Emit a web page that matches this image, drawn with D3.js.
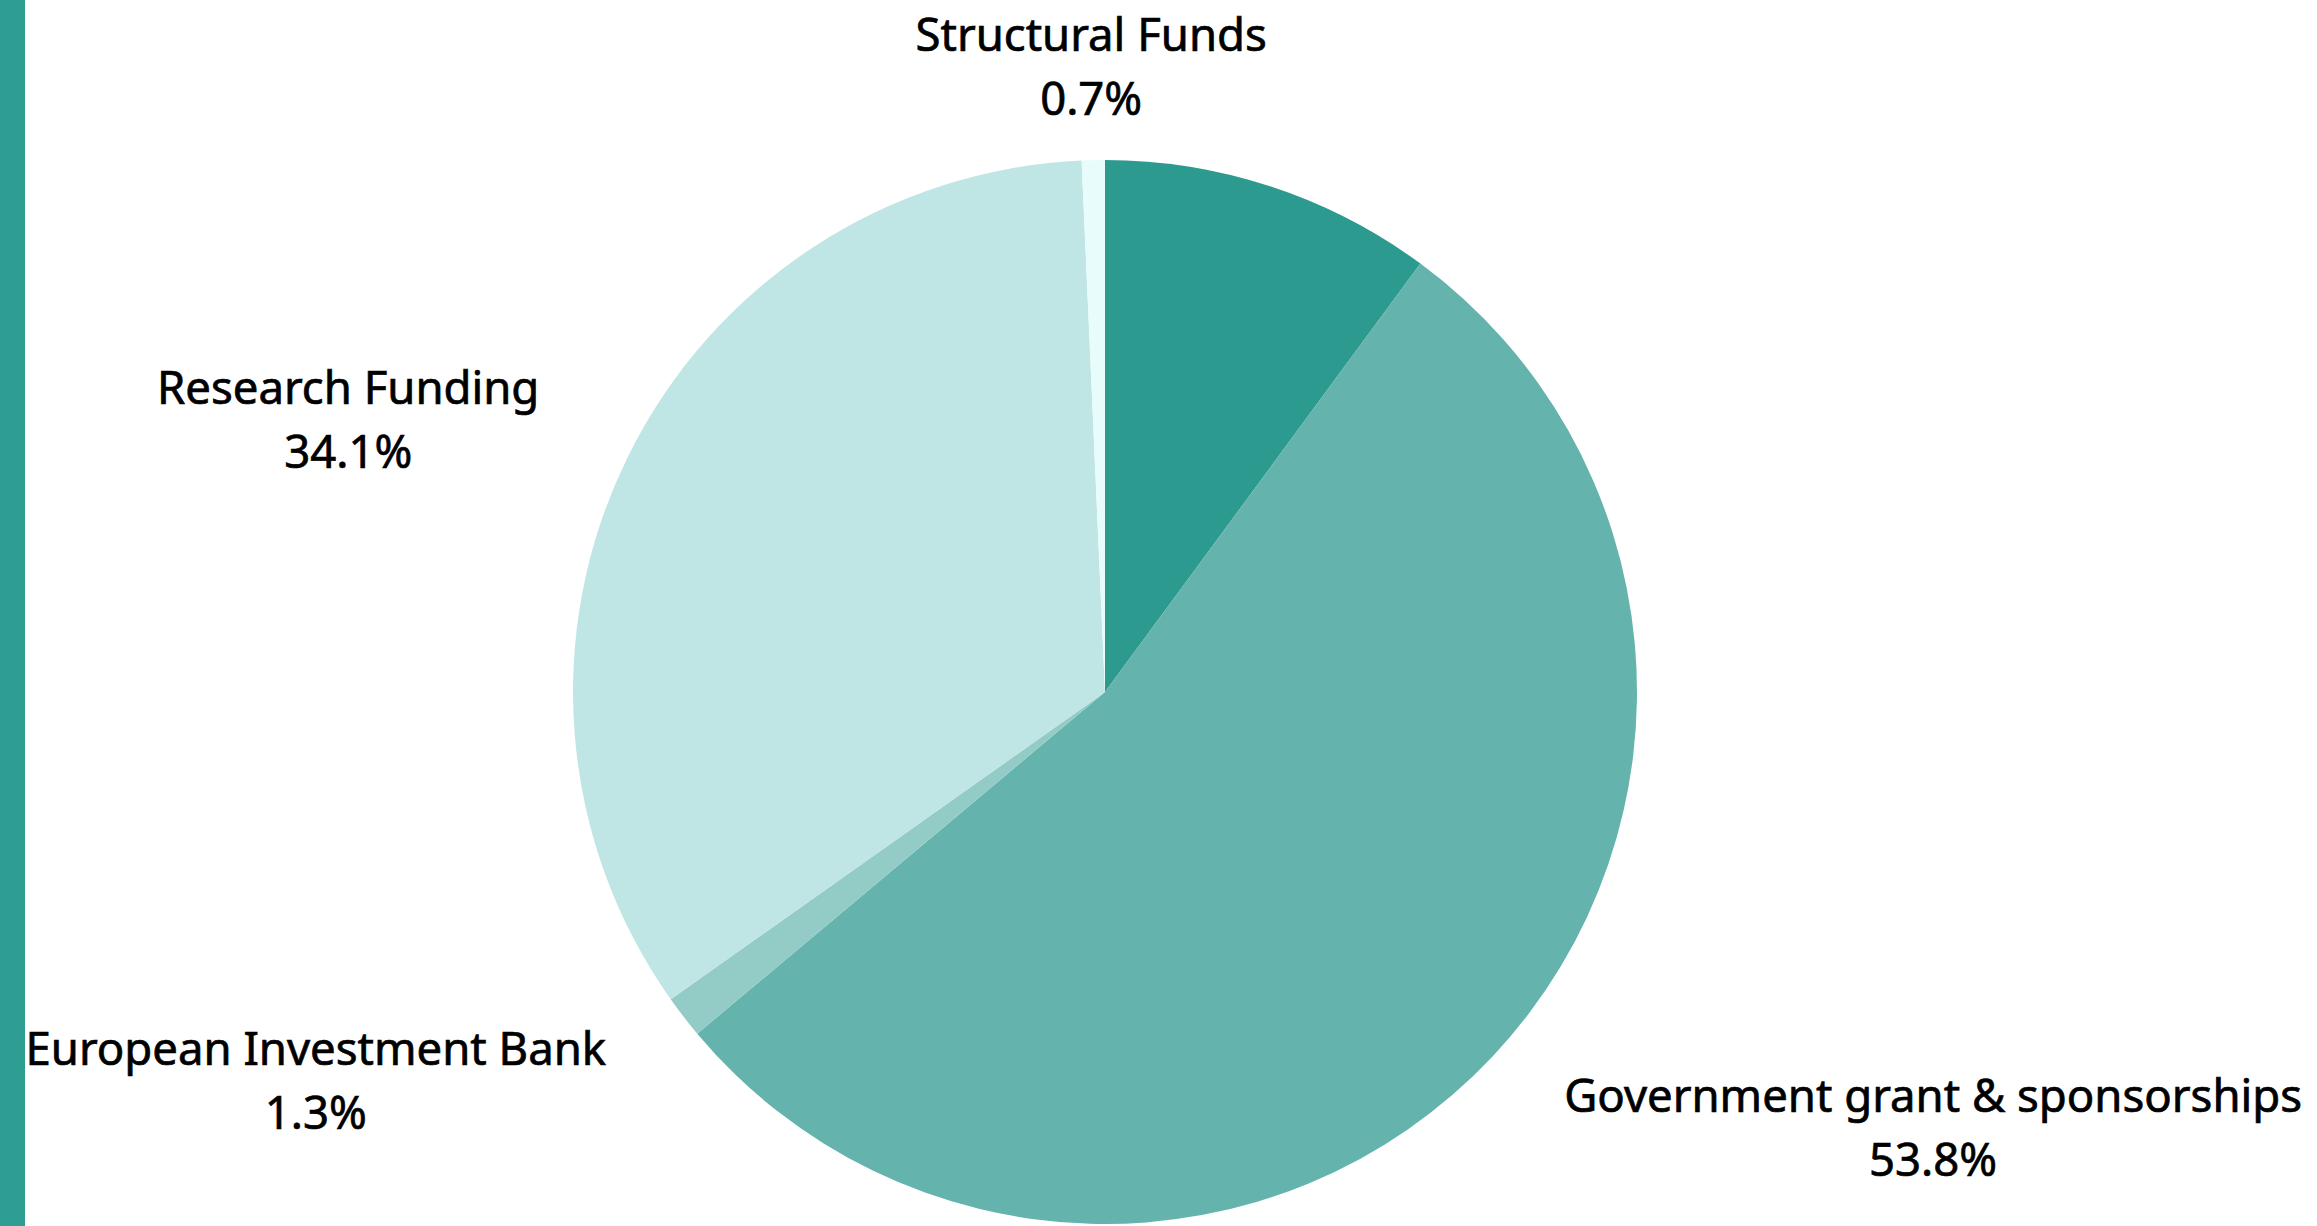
<!DOCTYPE html>
<html>
<head>
<meta charset="utf-8">
<script src="https://cdn.jsdelivr.net/npm/d3@7"></script>
<style>
  html, body { margin: 0; padding: 0; background: #ffffff; }
  svg { display: block; }
</style>
</head>
<body>
<div class="chart-area"></div>
<script>
// slices, clockwise from 12 o'clock
const categories = ['Other', 'Government grant & sponsorships', 'European Investment Bank', 'Research Funding', 'Structural Funds']
const shares = [10.1, 53.8, 1.3, 34.1, 0.7]
const showLabel = [false, true, true, true, true]
const sliceColors = ['#2c9a8f', '#65b3ad', '#93ccc7', '#bfe6e4', '#e9fcfc']

const width = 2317
const height = 1226
const cx = 1105
const cy = 692
const radius = 532
const labelRadius = radius * 1.184
const fontSize = 45.5
const lineGap = 64

const svg = d3.select('.chart-area').append('svg')
  .attr('width', width)
  .attr('height', height)

// teal strip down the left edge
svg.append('rect')
  .attr('x', 0)
  .attr('y', 0)
  .attr('width', 25)
  .attr('height', height)
  .style('fill', '#2e9d92')

const slices = categories.map((c, i) => ({ name: c, value: shares[i], color: sliceColors[i], label: showLabel[i] }))

const pie = d3.pie().sort(null).value(d => d.value)
const arc = d3.arc().innerRadius(0).outerRadius(radius)
const arcs = pie(slices)

const g = svg.append('g').attr('transform', `translate(${cx},${cy})`)

g.selectAll('path.slice')
  .data(arcs)
  .join('path')
  .attr('class', 'slice')
  .attr('d', arc)
  .style('fill', d => d.data.color)

// outside labels: anchor on a ring, text pushed away from the pie
g.selectAll('g.label')
  .data(arcs.filter(d => d.data.label))
  .join('g')
  .attr('class', 'label')
  .style('font-family', "'Noto Sans', sans-serif")
  .style('font-size', fontSize + 'px')
  .style('fill', '#000000')
  .style('stroke', '#000000')
  .style('stroke-width', 0.7)
  .each(function (d) {
    let mid = (d.startAngle + d.endAngle) / 2
    let ax = labelRadius * Math.sin(mid)
    let ay = -labelRadius * Math.cos(mid)
    let s = Math.sin(mid)
    let anchor = Math.abs(s) < 0.3 ? 'middle' : (s > 0 ? 'start' : 'end')
    let lg = d3.select(this)
    let name = lg.append('text')
      .attr('x', ax)
      .attr('y', ay - 11)
      .attr('text-anchor', anchor)
      .text(d.data.name)
    let box = name.node().getBBox()
    // percentage centred under the name
    lg.append('text')
      .attr('x', box.x + box.width / 2)
      .attr('y', ay - 11 + lineGap)
      .attr('text-anchor', 'middle')
      .text(d.data.value.toFixed(1) + '%')
  })
</script>
</body>
</html>
